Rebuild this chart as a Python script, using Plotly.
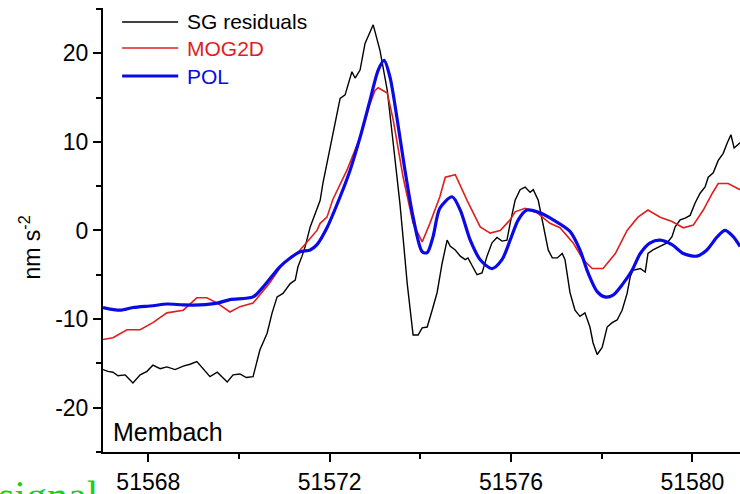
import plotly.graph_objects as go

# ---------------- data (MJD days, nm s^-2) ----------------
sg_x = [51567.00, 51567.11, 51567.22, 51567.33, 51567.49, 51567.66, 51567.82, 51567.97,
        51568.10, 51568.26, 51568.41, 51568.59, 51568.77, 51568.92, 51569.07, 51569.21,
        51569.36, 51569.52, 51569.63, 51569.74, 51569.87, 51570.02, 51570.16, 51570.31,
        51570.46, 51570.62, 51570.73, 51570.84, 51570.97, 51571.13, 51571.24, 51571.30,
        51571.39, 51571.46, 51571.57, 51571.68, 51571.79, 51571.85, 51572.05, 51572.23,
        51572.34, 51572.49, 51572.56, 51572.67, 51572.78, 51572.96, 51573.11, 51573.27,
        51573.40, 51573.55, 51573.64, 51573.71, 51573.84, 51573.95, 51574.04, 51574.15,
        51574.26, 51574.37, 51574.48, 51574.59, 51574.66, 51574.77, 51574.88, 51574.99,
        51575.05, 51575.14, 51575.25, 51575.36, 51575.47, 51575.58, 51575.69, 51575.80,
        51575.91, 51575.98, 51576.09, 51576.20, 51576.31, 51576.42, 51576.49, 51576.60,
        51576.71, 51576.82, 51576.91, 51577.02, 51577.13, 51577.19, 51577.30, 51577.41,
        51577.52, 51577.63, 51577.74, 51577.81, 51577.90, 51578.01, 51578.12, 51578.23,
        51578.34, 51578.45, 51578.56, 51578.63, 51578.69, 51578.85, 51578.96, 51579.02,
        51579.13, 51579.29, 51579.44, 51579.55, 51579.62, 51579.73, 51579.84, 51579.95,
        51580.06, 51580.17, 51580.28, 51580.35, 51580.46, 51580.57, 51580.68, 51580.77,
        51580.85, 51580.92, 51581.05]
sg_y = [-15.7, -15.9, -16.0, -16.4, -16.3, -17.2, -16.3, -15.9,
        -15.2, -15.6, -15.4, -15.7, -15.3, -15.1, -14.8, -15.6,
        -16.5, -16.0, -16.6, -17.1, -16.3, -16.2, -16.6, -16.5,
        -13.5, -11.6, -9.3, -7.5, -7.1, -6.0, -5.6, -4.1,
        -2.9, -1.8, 0.4, 2.0, 3.4, 5.3, 10.5, 14.9,
        15.3, 17.9, 17.2, 18.1, 21.1, 23.2, 20.3, 15.8,
        9.9, 3.0, -2.0, -6.0, -11.8, -11.8, -11.0, -10.9,
        -9.0, -7.0, -3.7, -1.1, -1.8, -2.2, -2.9, -3.3,
        -3.1, -3.9, -5.0, -4.8, -2.9, -1.4, -0.8, -1.2,
        -1.1, 0.8, 3.4, 4.6, 4.9, 4.3, 4.6, 3.4,
        0.4, -2.2, -3.1, -3.1, -2.6, -3.3, -7.0, -9.0,
        -9.7, -9.3, -10.9, -12.7, -14.0, -13.2, -10.9, -10.4,
        -10.1, -9.0, -7.1, -5.2, -4.5, -4.3, -4.7, -2.6,
        -2.2, -1.8, -1.4, -0.7, 0.4, 1.2, 1.4, 1.7,
        3.1, 4.2, 4.9, 6.0, 6.5, 7.9, 8.7, 9.9,
        10.8, 9.3, 9.9]

mog_x = [51567.00, 51567.22, 51567.53, 51567.82, 51568.10, 51568.41, 51568.77, 51569.07,
         51569.29, 51569.52, 51569.80, 51570.02, 51570.31, 51570.68, 51570.97, 51571.28,
         51571.50, 51571.72, 51571.79, 51571.94, 51572.07, 51572.38, 51572.67, 51572.89,
         51573.00, 51573.07, 51573.27, 51573.40, 51573.62, 51573.84, 51574.04, 51574.21,
         51574.43, 51574.55, 51574.77, 51575.03, 51575.32, 51575.54, 51575.76, 51575.98,
         51576.09, 51576.31, 51576.57, 51576.86, 51577.08, 51577.37, 51577.59, 51577.79,
         51578.03, 51578.30, 51578.56, 51578.80, 51579.02, 51579.29, 51579.55, 51579.80,
         51580.02, 51580.24, 51580.44, 51580.57, 51580.79, 51581.05]
mog_y = [-12.3, -12.1, -11.2, -11.2, -10.4, -9.3, -9.0, -7.6,
         -7.6, -8.2, -9.2, -8.6, -8.2, -5.9, -3.7, -2.6,
         -1.3, 0.0, 0.8, 1.5, 3.5, 6.8, 10.5, 14.3,
         15.8, 16.1, 15.5, 12.5, 6.0, 0.8, -1.3, 0.8,
         3.8, 6.0, 6.3, 3.4, 0.4, -0.3, 0.0, 1.2,
         2.1, 2.5, 2.0, 0.8, 0.3, -1.4, -3.3, -4.3,
         -4.3, -2.6, 0.0, 1.5, 2.3, 1.5, 1.0, 0.3,
         0.6, 2.3, 4.2, 5.3, 5.3, 4.6]

pol_x = [51567.00, 51567.38, 51567.66, 51568.10, 51568.41, 51568.77, 51569.14, 51569.52,
         51569.80, 51570.31, 51570.53, 51570.90, 51571.13, 51571.35, 51571.57, 51571.72,
         51571.94, 51572.23, 51572.45, 51572.67, 51572.89, 51573.07, 51573.20, 51573.33,
         51573.49, 51573.66, 51573.84, 51574.04, 51574.15, 51574.28, 51574.43, 51574.70,
         51574.88, 51575.10, 51575.32, 51575.58, 51575.80, 51575.98, 51576.16, 51576.35,
         51576.64, 51576.93, 51577.30, 51577.52, 51577.70, 51577.90, 51578.07, 51578.25,
         51578.47, 51578.67, 51578.85, 51579.07, 51579.29, 51579.55, 51579.80, 51580.10,
         51580.32, 51580.55, 51580.72, 51580.90, 51581.05]
pol_y = [-8.7, -9.0, -8.7, -8.5, -8.3, -8.4, -8.4, -8.2,
         -7.8, -7.5, -6.4, -4.1, -3.1, -2.4, -2.2, -1.6,
         0.3, 3.8, 6.8, 10.5, 14.7, 18.1, 19.2, 17.3,
         12.5, 6.8, 1.5, -2.4, -2.5, -0.7, 2.5, 3.8,
         2.3, -1.1, -3.3, -4.3, -3.3, -1.1, 1.2, 2.3,
         2.0, 1.2, -0.1, -2.2, -4.8, -6.9, -7.5, -7.3,
         -6.0, -4.5, -2.6, -1.4, -1.1, -1.6, -2.6, -2.9,
         -2.2, -0.7, 0.0, -0.7, -1.8]

series_names = ["SG residuals", "MOG2D", "POL"]
x_major = [51568, 51572, 51576, 51580]
y_major = [-20, -10, 0, 10, 20]

BLACK = "#000000"
RED = "#e01e1e"
BLUE = "#0a0ae6"
FONT = "Liberation Sans, Arial, sans-serif"
colors = [BLACK, RED, BLUE]
widths = [1.4, 1.6, 3.2]

fig = go.Figure()
fig.add_trace(go.Scatter(x=sg_x, y=sg_y, mode="lines", name=series_names[0],
                         line=dict(color=colors[0], width=widths[0])))
fig.add_trace(go.Scatter(x=mog_x, y=mog_y, mode="lines", name=series_names[1],
                         line=dict(color=colors[1], width=widths[1])))
fig.add_trace(go.Scatter(x=pol_x, y=pol_y, mode="lines", name=series_names[2],
                         line=dict(color=colors[2], width=widths[2],
                                   shape="spline", smoothing=0.8)))

axis_common = dict(
    showline=True, linewidth=2, linecolor=BLACK, mirror=False,
    showgrid=False, zeroline=False,
    ticks="outside", ticklen=8, tickwidth=2, tickcolor=BLACK,
    tickfont=dict(family=FONT, size=23, color=BLACK),
)

# hand-placed legend (line sample + coloured label), in paper coordinates
legend_rows = [0.9685, 0.9099, 0.8468]
shapes = []
annotations = []
for name, col, w, yy in zip(series_names, colors, widths, legend_rows):
    shapes.append(dict(type="line", xref="paper", yref="paper",
                       x0=0.030, x1=0.118, y0=yy, y1=yy,
                       line=dict(color=col, width=w)))
    annotations.append(dict(text=name, xref="paper", yref="paper",
                            x=0.128, y=yy, xanchor="left", yanchor="middle",
                            showarrow=False,
                            font=dict(family=FONT, size=21, color=col)))

annotations += [
    dict(text="nm s<sup>-2</sup>", textangle=-90, xref="paper", yref="paper",
         x=-0.115, y=0.46, xanchor="center", yanchor="middle", showarrow=False,
         font=dict(family=FONT, size=23, color=BLACK)),
    dict(text="Membach", xref="paper", yref="paper", x=0.012, y=0.045,
         xanchor="left", yanchor="middle", showarrow=False,
         font=dict(family=FONT, size=25, color=BLACK)),
    dict(text="signal", xref="paper", yref="paper", x=-0.168, y=-0.10,
         xanchor="left", yanchor="middle", showarrow=False,
         font=dict(family="Liberation Serif, Times New Roman, serif", size=42,
                   color="#22cc22")),
]

fig.update_layout(
    width=740, height=494,
    margin=dict(l=103, r=0, t=8, b=42),
    paper_bgcolor="white", plot_bgcolor="white",
    font=dict(family=FONT, color=BLACK),
    showlegend=False,
    xaxis=dict(range=[51567.0, 51581.05], tickmode="array", tickvals=x_major,
               ticktext=[str(v) for v in x_major],
               minor=dict(dtick=2, tick0=51568, ticks="outside", ticklen=5,
                          tickwidth=2, tickcolor=BLACK),
               **axis_common),
    yaxis=dict(range=[-25, 25.1], tickmode="array", tickvals=y_major,
               ticktext=[str(v) for v in y_major],
               minor=dict(dtick=5, tick0=0, ticks="outside", ticklen=5,
                          tickwidth=2, tickcolor=BLACK),
               **axis_common),
    shapes=shapes,
    annotations=annotations,
)

fig.write_html("out.html")
